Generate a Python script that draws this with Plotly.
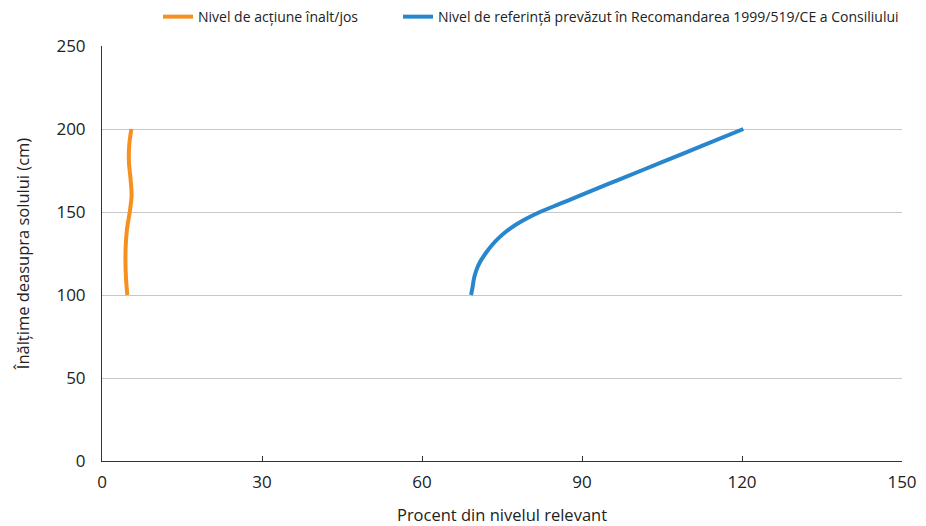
import plotly.graph_objects as go

heights_action = [100, 110, 120, 130, 140, 150, 160, 170, 180, 190, 200]
action_level = [4.75, 4.5, 4.4, 4.45, 4.7, 5.2, 5.55, 5.35, 5.05, 5.1, 5.5]

heights_ref = [100, 105, 110, 115, 120, 125, 130, 135, 140, 145, 150, 155, 160,
               170, 180, 190, 200]
ref_level = [69.2, 69.5, 69.75, 70.2, 70.9, 71.9, 73.1, 74.6, 76.5, 79.0, 82.1, 85.9,
             89.7, 97.3, 105.0, 112.6, 120.25]

name_action = "Nivel de acțiune înalt/jos"
name_ref = "Nivel de referință prevăzut în Recomandarea 1999/519/CE a Consiliului"

x_ticks = [0, 30, 60, 90, 120, 150]
y_ticks = [0, 50, 100, 150, 200, 250]

fig = go.Figure()
fig.add_trace(go.Scatter(x=action_level, y=heights_action, mode="lines", name=name_action,
                         legend="legend",
                         line=dict(color="#F7901E", width=4, shape="spline")))
fig.add_trace(go.Scatter(x=ref_level, y=heights_ref, mode="lines", name=name_ref,
                         legend="legend2",
                         line=dict(color="#2887CC", width=4, shape="spline", smoothing=1.0)))

ff = "Open Sans, sans-serif"
leg_common = dict(orientation="h", xanchor="left", y=0.998, yanchor="top",
                  yref="container", font=dict(size=14, family=ff), itemwidth=30,
                  tracegroupgap=0, bgcolor="rgba(0,0,0,0)")
fig.update_layout(
    width=926, height=526,
    margin=dict(l=102, r=24, t=46, b=65, autoexpand=False),
    paper_bgcolor="white", plot_bgcolor="white",
    font=dict(family=ff, size=16, color="#222"),
    legend=dict(x=0.07, **leg_common),
    legend2=dict(x=0.37, **leg_common),
    xaxis=dict(range=[0, 150], tickvals=x_ticks, showgrid=False, showline=True,
               linecolor="#333", linewidth=1, ticks="inside", ticklen=5, tickcolor="#333",
               zeroline=False, automargin=False, ticklabelstandoff=6,
               title=dict(text="Procent din nivelul relevant", font=dict(size=16.5), standoff=18),
               tickfont=dict(size=17)),
    yaxis=dict(range=[0, 250], tickvals=y_ticks, showgrid=True, gridcolor="#c8c8c8",
               showline=True, linecolor="#333", linewidth=1, ticks="", zeroline=False,
               automargin=False, ticklabelstandoff=12,
               title=dict(text="Înălțime deasupra solului (cm)", font=dict(size=16.5), standoff=22),
               tickfont=dict(size=17)),
    showlegend=True,
)
fig.write_html("out.html", config={"displayModeBar": False},
               post_script="document.body.style.margin='0';")
